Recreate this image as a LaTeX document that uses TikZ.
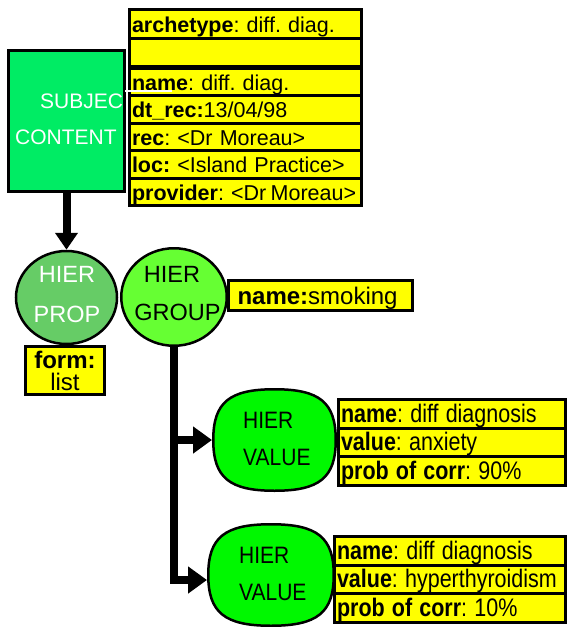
\documentclass[tikz,border=0pt]{standalone}
\usepackage{graphicx}
\usepackage{fontspec}
\setmainfont{Liberation Sans}
\usetikzlibrary{arrows.meta,shapes.geometric}
\AtBeginDocument{\frenchspacing}
\definecolor{subjgreen}{RGB}{0,236,100}
\definecolor{propgreen}{RGB}{102,204,102}
\definecolor{groupgreen}{RGB}{102,255,51}
\definecolor{valuegreen}{RGB}{0,248,0}
\definecolor{tagyellow}{RGB}{255,255,0}

% narrow, tall lettering used in the value attribute rows
\newcommand\tallrow[1]{\scalebox{1}[1.18]{#1}}
\newcommand\tallname[1]{\scalebox{1}[1.13]{#1}}

% rounded "squircle" outline: style, centre x, centre y, half width, half height
\newcommand\valueshape[5]{%
  \draw[#1] (#2+#4,#3)
    .. controls (#2+#4,#3-0.74*#5) and (#2+0.74*#4,#3-#5) .. (#2,#3-#5)
    .. controls (#2-0.74*#4,#3-#5) and (#2-#4,#3-0.74*#5) .. (#2-#4,#3)
    .. controls (#2-#4,#3+0.74*#5) and (#2-0.74*#4,#3+#5) .. (#2,#3+#5)
    .. controls (#2+0.74*#4,#3+#5) and (#2+#4,#3+0.74*#5) .. cycle;}

\begin{document}
\begin{tikzpicture}[x=1pt,y=-1pt,
  every node/.style={inner sep=0pt},
  row/.style={draw=black, line width=3pt, fill=tagyellow, anchor=north west,
    outer sep=0pt, inner xsep=2.5pt, inner ysep=0pt, align=left,
    text height=18pt, text depth=1pt, font={\fontsize{21.5}{24}\selectfont}},
  tag/.style={draw=black, line width=3pt, fill=tagyellow, outer sep=0pt,
    font={\fontsize{24}{22}\selectfont}},
  blob/.style={draw=black, line width=2.5pt, ellipse},
  valueline/.style={draw=black, line width=2.5pt, fill=valuegreen},
  valuebox/.style={minimum width=122.5pt, minimum height=101.5pt, outer sep=1.25pt},
  bigtxt/.style={anchor=base, font={\fontsize{23.5}{26}\selectfont}},
  smalltxt/.style={anchor=base west, font={\fontsize{21}{24}\selectfont}},
  conn/.style={line width=8pt, -{Triangle[length=17pt,width=22pt]}},
  branch/.style={line width=8pt, -{Triangle[length=19pt,width=26pt]}}
]
\useasboundingbox (0,0) rectangle (567,627);

% subject content box
\node[draw=black, line width=3pt, fill=subjgreen, minimum width=116pt,
  minimum height=141pt] (subj) at (66.5,121) {};
\node[smalltxt, text=white] (subjA) at (40,108) {SUBJEC};
\node[smalltxt, text=white] (subjB) at (15,144) {CONTENT};

% attribute list of the subject
\node[row, text width=227pt, minimum height=29pt]   (arch)  at (129.5,9.5)  {\textbf{archetype}: diff. diag.};
\node[row, text width=227pt, minimum height=28pt]   (blank) at (129.5,38.5) {};
\node[row, text width=227pt, minimum height=27.5pt] (nm)    at (129.5,68)   {\textbf{name}: diff. diag.};
\node[row, text width=227pt, minimum height=27.5pt] (dt)    at (129.5,95.5) {\textbf{dt\_rec:}13/04/98};
\node[row, text width=227pt, minimum height=27.5pt] (rec)   at (129.5,123)  {\textbf{rec}: <Dr Moreau>};
\node[row, text width=227pt, minimum height=27.5pt] (loc)   at (129.5,150.5){\textbf{loc:} <Island Practice>};
\node[row, text width=227pt, minimum height=27.5pt] (prov)  at (129.5,178)
  {\mbox{\textbf{provider}: <Dr\hspace{0.2em}Moreau>}};
\draw[white, line width=2pt] (125,90.5) -- (172,90.5);

% hierarchy nodes
\node[blob, fill=propgreen, minimum width=101pt, minimum height=93pt] (hp) at (66.5,297.5) {};
\node[bigtxt, text=white] (hpA) at (67,282) {HIER};
\node[bigtxt, text=white] (hpB) at (67,322) {PROP};

\node[blob, fill=groupgreen, minimum width=105.5pt, minimum height=97.5pt] (hg) at (174,297) {};
\node[bigtxt] (hgA) at (172,282) {HIER};
\node[bigtxt] (hgB) at (177.5,320) {GROUP};

\node[tag, minimum width=79pt, minimum height=48pt, align=center] (form) at (65,370.5)
  {\textbf{form:}\\list};
\node[tag, inner xsep=9pt, text width=166pt, align=left, minimum height=30pt,
  text height=18pt, text depth=1pt] (smk) at (320.5,295.5) {\textbf{name:}smoking};

\valueshape{valueline}{274.5}{440}{61.25}{50.75}
\node[valuebox] (hv1) at (274.5,440) {};
\node[smalltxt] (hv1A) at (243,428) {\tallname{HIER}};
\node[smalltxt] (hv1B) at (243,465) {\tallname{VALUE}};

\valueshape{valueline}{271}{575}{62.75}{50.75}
\node[valuebox, minimum width=125.5pt] (hv2) at (271,575) {};
\node[smalltxt] (hv2A) at (239,563) {\tallname{HIER}};
\node[smalltxt] (hv2B) at (239,600) {\tallname{VALUE}};

% value attributes
\node[row, text width=222pt, minimum height=28.5pt] (v1n) at (338.5,399.5) {\tallrow{\textbf{name}: diff diagnosis}};
\node[row, text width=222pt, minimum height=28.5pt] (v1v) at (338.5,428)   {\tallrow{\textbf{value}: anxiety}};
\node[row, text width=222pt, minimum height=28.5pt] (v1p) at (338.5,456.5) {\tallrow{\textbf{prob of corr}: 90\%}};

\node[row, text width=226pt, minimum height=28.5pt] (v2n) at (334.5,536.5) {\tallrow{\textbf{name}: diff diagnosis}};
\node[row, text width=226pt, minimum height=28.5pt] (v2v) at (334.5,565)   {\tallrow{\textbf{value}: hyperthyroidism}};
\node[row, text width=226pt, minimum height=28.5pt] (v2p) at (334.5,593.5) {\tallrow{\textbf{prob of corr}: 10\%}};

% connectors
\draw[conn] (subj.south) -- (hp.north);
\draw[branch] (hg.south) |- ([yshift=-5pt]hv2.west);
\draw[branch] (hg.south |- hv1.west) -- (hv1.west);
\end{tikzpicture}
\end{document}
